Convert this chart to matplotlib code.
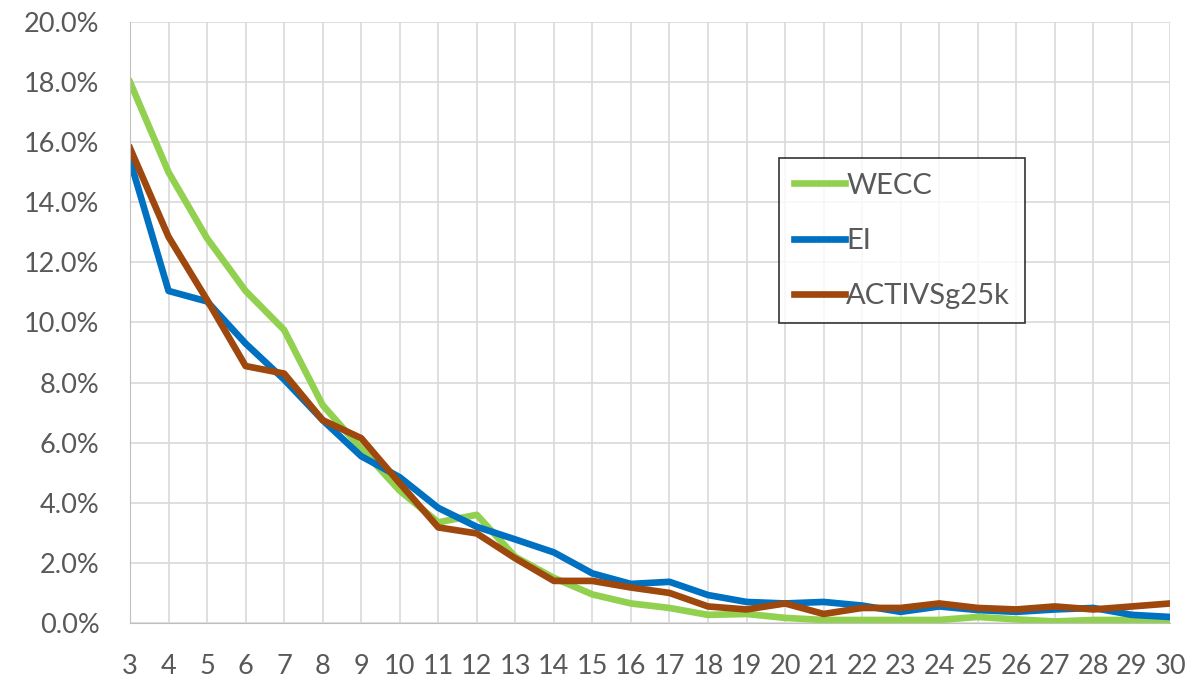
import matplotlib
matplotlib.use("Agg")
import matplotlib.pyplot as plt
from matplotlib.ticker import PercentFormatter

plt.rcParams['font.family'] = ['Lato', 'DejaVu Sans']

# Data (percent)
sizes = list(range(3, 31))
wecc = [18.0, 15.0, 12.8, 11.05, 9.75, 7.25, 5.8, 4.4, 3.35, 3.6, 2.2, 1.5, 0.95, 0.65,
        0.5, 0.27, 0.3, 0.17, 0.1, 0.1, 0.1, 0.1, 0.2, 0.12, 0.05, 0.1, 0.1, 0.05]
ei = [15.4, 11.05, 10.7, 9.3, 8.1, 6.75, 5.55, 4.85, 3.83, 3.2, 2.78, 2.35, 1.65, 1.3,
      1.37, 0.93, 0.7, 0.65, 0.7, 0.58, 0.37, 0.55, 0.43, 0.37, 0.45, 0.5, 0.27, 0.2]
activ = [15.8, 12.85, 10.75, 8.55, 8.3, 6.75, 6.15, 4.65, 3.18, 2.98, 2.15, 1.4, 1.4, 1.18,
         1.0, 0.55, 0.45, 0.65, 0.3, 0.5, 0.5, 0.65, 0.5, 0.45, 0.55, 0.45, 0.55, 0.65]
yticks = [0, 2, 4, 6, 8, 10, 12, 14, 16, 18, 20]

fig = plt.figure(figsize=(11.95, 6.81), dpi=100)
ax = fig.add_axes([0.1088, 0.0852, 0.8706, 0.8825])

ax.plot(sizes, wecc, color='#92D050', lw=4.8, label='WECC', solid_joinstyle='round')
ax.plot(sizes, ei, color='#0070C0', lw=4.8, label='EI', solid_joinstyle='round')
ax.plot(sizes, activ, color='#9E480E', lw=4.8, label='ACTIVSg25k', solid_joinstyle='round')

ax.set_xlim(3, 30)
ax.set_ylim(0, 20)
ax.set_xticks(sizes)
ax.set_yticks(yticks)
ax.yaxis.set_major_formatter(PercentFormatter(decimals=1))
ax.grid(True, color='#D9D9D9', lw=1.2)
ax.set_axisbelow(True)
for s in ['top', 'right']:
    ax.spines[s].set_visible(False)
ax.spines['left'].set_color('#BFBFBF')
ax.spines['bottom'].set_color('#BFBFBF')
ax.tick_params(length=0, labelsize=19.5, labelcolor='#595959')
ax.tick_params(axis='y', pad=22)
ax.tick_params(axis='x', pad=22)

leg = fig.legend(loc='upper left', bbox_to_anchor=(0.652, 0.768), fontsize=21,
                 handlelength=1.75, handletextpad=0.05, labelspacing=1.0,
                 fancybox=False, borderpad=0.5, borderaxespad=0)
leg.get_frame().set_edgecolor('black')
leg.get_frame().set_linewidth(1.2)
for t in leg.get_texts():
    t.set_color('#595959')

fig.savefig('out.png', dpi=100)
